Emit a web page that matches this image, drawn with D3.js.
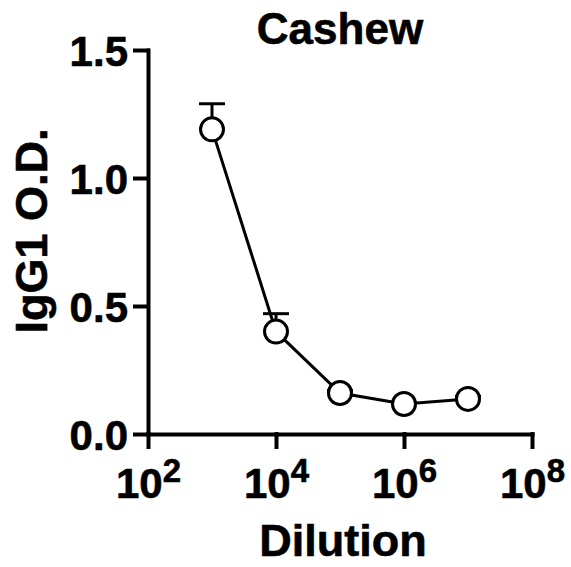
<!DOCTYPE html>
<html>
<head>
<meta charset="utf-8">
<script src="https://cdn.jsdelivr.net/npm/d3@7"></script>
<style>
  body { margin: 0; background: #fff; }
  text { font-family: "Liberation Sans", Arial, sans-serif; font-weight: bold; fill: #000; stroke: #000; stroke-width: 0.6px; }
</style>
</head>
<body>
<div class="chart"></div>
<script>
// data
var dilutions = [1e3, 1e4, 1e5, 1e6, 1e7];
var means = [1.19, 0.40, 0.16, 0.117, 0.137];
var sems = [0.10, 0.07, 0.01, 0.005, 0.01];
var xTickExps = [2, 4, 6, 8];
var yTicks = [0.0, 0.5, 1.0, 1.5];

var svgWidth = 571;
var svgHeight = 567;

var svg = d3.select(".chart")
  .append("svg")
  .attr("width", svgWidth)
  .attr("height", svgHeight);

// scales
var xScale = d3.scaleLog()
  .domain([1e2, 1e8])
  .range([148, 532]);

var yScale = d3.scaleLinear()
  .domain([0, 1.5])
  .range([434, 50]);

// y axis
var yAxis = svg.append("g")
  .attr("transform", "translate(148,0)")
  .call(d3.axisLeft(yScale)
    .tickValues(yTicks)
    .tickSize(13)
    .tickSizeOuter(0)
    .tickPadding(7)
    .tickFormat(d3.format(".1f")));

// x axis
var xAxis = svg.append("g")
  .attr("transform", "translate(0,434)")
  .call(d3.axisBottom(xScale)
    .tickValues(xTickExps.map(e => Math.pow(10, e)))
    .tickSize(13)
    .tickSizeOuter(0)
    .tickPadding(6)
    .tickFormat(""));

[xAxis, yAxis].forEach(function(ax) {
  ax.selectAll("path, line")
    .attr("stroke", "#000")
    .attr("stroke-width", 4)
    .attr("stroke-linecap", "square");
  ax.selectAll("text")
    .style("font-size", "42px")
    .style("font-family", "'Liberation Sans', Arial, sans-serif")
    .style("font-weight", "bold")
    .attr("fill", "#000");
});

yAxis.selectAll(".tick text").attr("dy", "0.36em");

// superscript tick labels on x
xAxis.selectAll(".tick text")
  .attr("dy", null)
  .attr("y", 64)
  .each(function(d) {
    var t = d3.select(this);
    t.text(null);
    t.append("tspan").text("10");
    t.append("tspan")
      .attr("dy", -16)
      .style("font-size", "33px")
      .text(Math.round(Math.log10(d)));
  });

// connecting line
var line = d3.line()
  .x((d, i) => xScale(dilutions[i]))
  .y(d => yScale(d));

svg.append("path")
  .datum(means)
  .attr("d", line)
  .attr("fill", "none")
  .attr("stroke", "#000")
  .attr("stroke-width", 3);

// error bars (upper only)
var errGroup = svg.append("g");
means.forEach(function(m, i) {
  var cx = xScale(dilutions[i]);
  errGroup.append("line")
    .attr("x1", cx).attr("x2", cx)
    .attr("y1", yScale(m)).attr("y2", yScale(m + sems[i]))
    .attr("stroke", "#000").attr("stroke-width", 3);
  errGroup.append("line")
    .attr("x1", cx - 13).attr("x2", cx + 13)
    .attr("y1", yScale(m + sems[i])).attr("y2", yScale(m + sems[i]))
    .attr("stroke", "#000").attr("stroke-width", 3);
});

// points
svg.selectAll("circle")
  .data(means)
  .enter()
  .append("circle")
  .attr("cx", (d, i) => xScale(dilutions[i]))
  .attr("cy", d => yScale(d))
  .attr("r", 11.5)
  .attr("fill", "#fff")
  .attr("stroke", "#000")
  .attr("stroke-width", 3);

// title and axis labels
svg.append("text")
  .attr("x", 340)
  .attr("y", 44)
  .attr("text-anchor", "middle")
  .style("font-size", "44px")
  .text("Cashew");

svg.append("text")
  .attr("x", 343)
  .attr("y", 556)
  .attr("text-anchor", "middle")
  .style("font-size", "45px")
  .text("Dilution");

svg.append("text")
  .attr("transform", "translate(47,231) rotate(-90)")
  .attr("text-anchor", "middle")
  .style("font-size", "45px")
  .text("IgG1 O.D.");
</script>
</body>
</html>
